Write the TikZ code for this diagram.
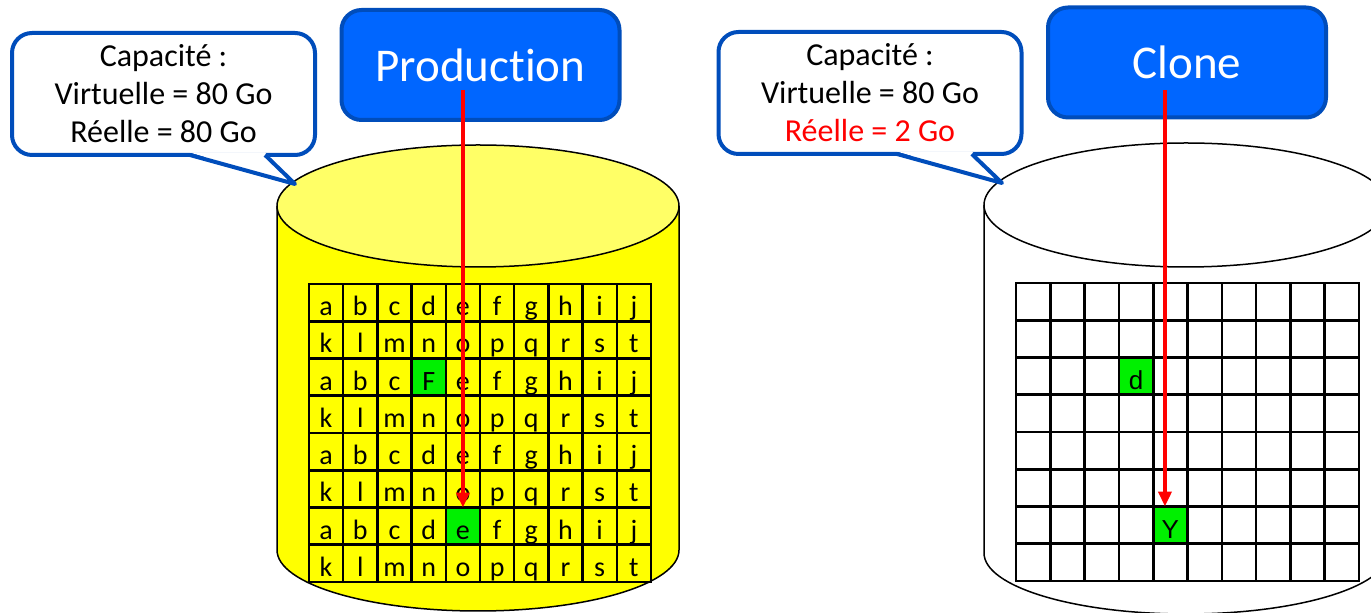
\documentclass[tikz,border=0pt]{standalone}
\usepackage{fontspec}
\setmainfont{Carlito}[Ligatures={NoCommon,NoRare},Contextuals={NoAlternate}]
\newfontfamily\arialfont{Liberation Sans}
\usetikzlibrary{arrows.meta,calc}

\definecolor{boxblue}{RGB}{0,102,255}
\definecolor{edgeblue}{RGB}{0,77,187}
\definecolor{diskyellow}{RGB}{255,255,0}
\definecolor{lidyellow}{RGB}{255,255,102}
\definecolor{hitgreen}{RGB}{0,240,0}

\tikzset{
  disk/.style={draw=black,line width=0.75pt},
  cell/.style={draw=black,line width=1.25pt,minimum width=17.1pt,minimum height=18.6pt,
    inner sep=0pt,outer sep=0pt,text height=13pt,text depth=0pt,
    font=\fontsize{14}{16}\selectfont},
  blank/.style={cell,font=\arialfont\fontsize{13}{15}\selectfont},
  hit/.style={fill=hitgreen},
  title/.style={draw=edgeblue,fill=boxblue,line width=2pt,rounded corners=10pt,
    outer sep=0pt,text=white,font=\fontsize{23.5}{28}\selectfont,
    minimum width=139pt,minimum height=55pt},
  bubble/.style={draw=edgeblue,fill=white,line width=2pt,rounded corners=10pt,
    outer sep=0pt,inner sep=0pt,align=center,font=\fontsize{16}{19}\selectfont,
    minimum width=151.5pt,minimum height=61pt},
  bubbleline/.style={edgeblue,line width=2pt,line join=round},
  readarrow/.style={red,line width=2.4pt,-{Triangle[width=6.5pt,length=7.5pt]}}
}

\begin{document}
\begin{tikzpicture}[x=0.5pt,y=-0.5pt]
\useasboundingbox (0,0) rectangle (1371,613);
\clip (0,0) rectangle (1371,613);
%disks
\filldraw[disk,fill=diskyellow] (277,206) -- (277,550) arc[start angle=180,end angle=0,x radius=201,y radius=61] -- (679,206);
\filldraw[disk,fill=lidyellow] (478,206) ellipse[x radius=201,y radius=61];
\filldraw[disk,fill=white] (984,205) -- (984,553) arc[start angle=180,end angle=0,x radius=202,y radius=61] -- (1388,205);
\draw[disk] (1186,205) ellipse[x radius=202,y radius=62];
%production blocks
\foreach \r in {0,2,4,6}
  \foreach \l [count=\c from 0] in {a,b,c,d,e,f,g,h,i,j}
    \node[cell] (p\r\c) at ({309+34.2*(\c+0.5)},{284+37.25*(\r+0.5)}) {\l};
\foreach \r in {1,3,5,7}
  \foreach \l [count=\c from 0] in {k,l,m,n,o,p,q,r,s,t}
    \node[cell] (p\r\c) at ({309+34.2*(\c+0.5)},{284+37.25*(\r+0.5)}) {\l};
\node[cell,hit] (fileF) at (p23) {F};
\node[cell,hit] (fileE) at (p64) {e};
%clone blocks
\foreach \r in {0,...,7}
  \foreach \c in {0,...,9}
    \node[blank] (c\r\c) at ({1016+34.3*(\c+0.5)},{283+37.25*(\r+0.5)}) {};
\node[blank,hit] (blockD) at (c23) {d};
\node[blank,hit] (blockY) at (c64) {Y};
%callouts
\node[bubble] (capP) at (163.5,94) {Capacité :\\Virtuelle = 80 Go\\Réelle = 80 Go};
\coordinate (tipP) at (295,184);
\fill[white] ($(capP.south west)!0.587!(capP.south east)+(0,-2.5)$) -- (tipP) -- ($(capP.south west)!0.835!(capP.south east)+(0,-2.5)$) -- cycle;
\draw[bubbleline] ($(capP.south west)!0.587!(capP.south east)$) -- (tipP) -- ($(capP.south west)!0.835!(capP.south east)$);
\node[bubble] (capC) at (870,93) {Capacité :\\Virtuelle = 80 Go\\\textcolor{red}{Réelle = 2 Go}};
\coordinate (tipC) at (1002,183);
\fill[white] ($(capC.south west)!0.589!(capC.south east)+(0,-2.5)$) -- (tipC) -- ($(capC.south west)!0.836!(capC.south east)+(0,-2.5)$) -- cycle;
\draw[bubbleline] ($(capC.south west)!0.589!(capC.south east)$) -- (tipC) -- ($(capC.south west)!0.836!(capC.south east)$);
%titles
\node[title] (prod) at (480.5,65) {Production};
\node[title] (clone) at (1187,62.5) {Clone};
%reads
\draw[readarrow] ([yshift=15pt]fileE.north |- prod.south) -- (fileE.north);
\draw[readarrow] ([xshift=-2.7pt,yshift=13.5pt]blockY.north |- clone.south) -- ([xshift=-2.7pt]blockY.north);
\end{tikzpicture}
\end{document}
